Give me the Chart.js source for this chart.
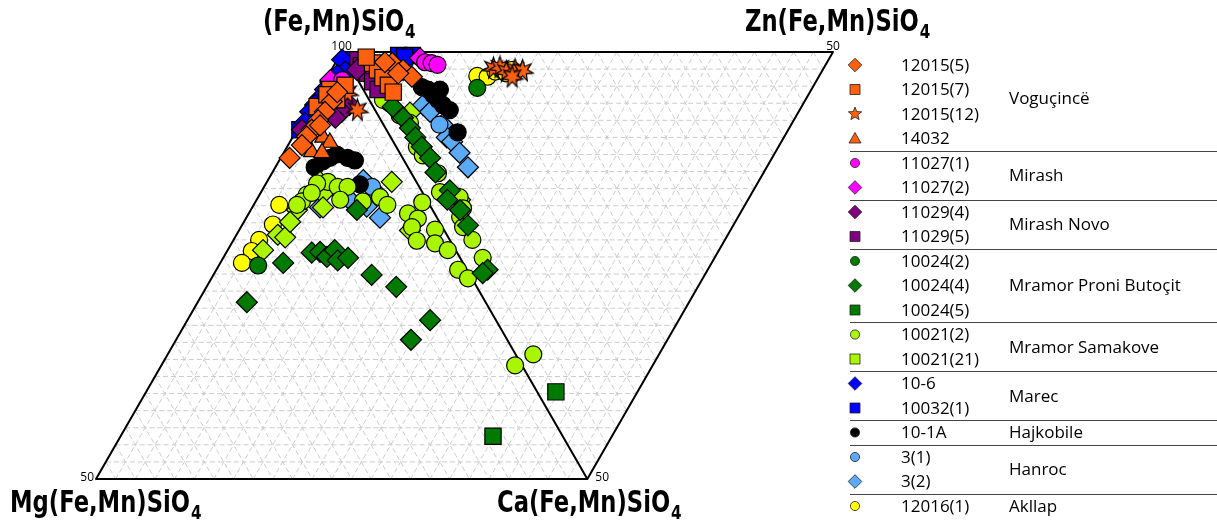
<!DOCTYPE html>
<html>
<head>
<meta charset="utf-8">
<script src="https://cdn.jsdelivr.net/npm/chart.js@4.4.1/dist/chart.umd.min.js"></script>
<style>
  html, body { margin: 0; padding: 0; background: #ffffff; overflow: hidden; }
  canvas { display: block; }
</style>
</head>
<body>
<canvas id="chart" width="1217" height="524"></canvas>
<script>
// Olivine compositions, mol %: [Mg(Fe,Mn)SiO4, Ca(Fe,Mn)SiO4, Zn(Fe,Mn)SiO4];
// the remainder is (Fe,Mn)SiO4. Left triangle: Fe-Mg-Ca, right triangle: Fe-Zn-Ca.
const s12015_5 = [[0,1.3,4.5],[0,2.1,5.2],[0,2.9,5.7],[0,2.5,4.5],[0,1.2,3.8],
  [3.9,1.9,0],[5.2,1.8,0],[6.4,1.6,0],[7.6,1.5,0],[8.5,1.4,0],[9.5,1.4,0],[11.5,0.9,0],[2.8,1.9,0],[6.5,2.1,0]];
const s12015_7 = [[0,1.3,2.5],[0,2.1,2.6],[0,3.0,2.7],[0,3.9,2.8],[0,4.7,2.9],[0,0.6,2.2],
  [3.4,1.0,0],[3.3,2.3,0],[5.7,0.7,0],[4.0,1.0,0],[1.6,2.3,0]];
const s12015_12 = [[0,1.9,14.5],[0,1.8,15.2],[0,2.3,15.6],[0,2.1,16.6],[0,2.2,17.3],[0,2.9,15.9],
  [1.8,3.0,0],[1.8,5.0,0]];
const s14032 = [[6.9,3.1,0],[6.5,4.1,0],[8.9,2.8,0],[7.9,3.9,0]];
const s11027_1 = [[0,1.2,7.9],[0,1.3,8.5],[0,1.5,9.0],[1.6,1.7,0]];
const s11027_2 = [[2.8,0.5,0],[0,0.7,7.6]];
const s11029_4 = [[2.3,3.9,0],[3.5,3.5,0],[8.6,0.5,0],[0,2.1,0.5],[4.5,3.2,0]];
const s11029_5 = [[0,0.9,1.2],[0,1.6,1.2],[0,2.5,1.4],[0,3.5,1.4],[0,4.4,1.5]];
const s10024_2 = [[0,4.2,11.7],[21.0,4.0,0]];
const s10024_4 = [[0,6.4,2.0],[0,7.7,2.4],[0,8.9,2.5],[0,10.0,2.5],[0,11.1,2.6],[0,12.4,2.8],
  [0,14.1,2.5],[0,16.2,2.9],[0,18.5,2.8],[0,17.3,2.1],[0,20.3,2.7],[0,25.5,2.1],[0,25.9,1.4],
  [7.7,10.8,0],[14.8,8.7,0],[13.9,9.5,0],[13.5,10.5,0],[12.3,10.9,0],[12.6,11.8,0],[11.4,12.7,0],
  [18.3,6.4,0],[10.0,16.1,0],[8.2,19.3,0],[24.3,5.0,0],[6.7,24.7,0],[9.8,23.9,0]];
const s10024_5 = [[0,39.8,1.9],[7.1,37.9,0]];
const s10021_2 = [[0,6.0,1.9],[0,7.4,2.2],[0,8.3,2.8],[0,5.6,1.4],[0,11.1,2.1],[0,12.1,2.2],
  [0,14.2,2.7],[0,16.5,2.0],[0,17.0,3.5],[0,18.3,3.2],[0,16.4,1.8],
  [2.7,16.2,0],[2.0,17.5,0],[0.6,17.0,0],[3.1,17.4,0],[3.4,18.7,0],[0.9,19.9,0],[1.7,20.7,0],[0.8,22.4,0],
  [0,19.3,2.4],[0,20.5,2.1],[0,22.0,2.3],[0,24.1,2.3],[0.9,24.6,0],[0.4,26.1,0],[0,35.4,1.8],[0.7,36.0,0],
  [9.0,6.2,0],[8.3,7.5,0],[7.3,8.5,0],[11.9,4.8,0],[12.8,4.7,0],[4.6,12.4,0],[4.3,13.6,0],[6.6,10.9,0],
  [10.2,5.2,0],[11.3,5.2,0],[13.5,4.4,0],[8.8,8.5,0]];
const s10021_21 = [[9.8,5.4,0],[10.2,6.4,0],[13.8,4.7,0],[11.0,7.2,0],[17.2,4.2,0],[16.6,5.1,0],
  [19.6,3.6,0],[2.5,12.7,0],[3.5,17.4,0],[0,17.3,3.4],[15.2,4.7,0],[0,7.1,3.4]];
const s10_6 = [[0.4,0.5,0],[0.8,1.5,0],[1.8,0.9,0],[2.9,0.6,0],[3.9,0.5,0],[4.9,0.5,0],[5.8,0.4,0],[6.7,0.3,0],[7.9,0.4,0]];
const s10032_1 = [[0,0.4,5.6],[0,0.4,7.0],[0,0.6,6.1],[0,0.9,0.4],[8.8,0.3,0]];
const s10_1A = [[0,4.1,6.1],[0,4.4,6.6],[0,5.0,6.8],[0,5.6,7.0],[0,6.2,7.2],[0,6.8,7.6],[0,9.4,7.1],[0,4.4,7.8],
  [9.5,4.0,0],[8.3,4.5,0],[7.4,5.0,0],[6.5,5.5,0],[5.6,6.8,0],[5.0,7.7,0],[5.9,9.6,0]];
const s3_1 = [[0,8.5,5.7],[4.8,11.0,0]];
const s3_2 = [[0,6.2,5.2],[0,7.0,5.5],[0,8.5,6.0],[0,10.0,5.7],[0,10.5,6.0],[0,11.8,6.1],[0,13.5,6.1],
  [7.9,9.2,0],[4.7,11.8,0],[5.8,13.6,0],[11.3,6.9,0],[6.5,11.6,0],[5.3,9.7,0],[8.5,7.7,0]];
const s12016_1 = [[0,2.8,12.4],[0,2.9,13.4],[0,2.3,14.5],[0,2.5,15.5],[0,2.1,16.3],
  [15.3,2.6,0],[17.1,3.1,0],[19.4,2.6,0],[20.8,2.5,0],[22.5,2.2,0]];

// Legend text and grouping by locality
const sampleLabels = ['12015(5)','12015(7)','12015(12)','14032','11027(1)','11027(2)','11029(4)','11029(5)',
  '10024(2)','10024(4)','10024(5)','10021(2)','10021(21)','10-6','10032(1)','10-1A','3(1)','3(2)','12016(1)'];
const groupNames = ['Voguçincë','Mirash','Mirash Novo','Mramor Proni Butoçit','Mramor Samakove','Marec','Hajkobile','Hanroc','Akllap'];
const groupSizes = [4, 2, 2, 3, 2, 2, 1, 2, 1];

// Axis / apex labels and tick values
const apexLabels = { top: '(Fe,Mn)SiO', right: 'Zn(Fe,Mn)SiO', left: 'Mg(Fe,Mn)SiO', bottom: 'Ca(Fe,Mn)SiO' };
const apexTick = 100, edgeTick = 50, gridStep = 2;

const ORANGE = '#ff6010', MAGENTA = '#ff00ff', PURPLE = '#800080', GREEN = '#007a00',
      LIME = '#aaf500', BLUE = '#0000ff', BLACK = '#000000', SKY = '#5aaaf5', YELLOW = '#ffff00';

function starCanvas(outer, inner, points, color, lw) {
  const size = Math.ceil(outer * 2 + lw * 2 + 2);
  const cv = document.createElement('canvas');
  cv.width = size; cv.height = size;
  const g = cv.getContext('2d');
  g.translate(size / 2, size / 2);
  g.beginPath();
  for (let i = 0; i < points * 2; i++) {
    const r = i % 2 === 0 ? outer : inner;
    const a = -Math.PI / 2 + i * Math.PI / points;
    if (i === 0) g.moveTo(r * Math.cos(a), r * Math.sin(a)); else g.lineTo(r * Math.cos(a), r * Math.sin(a));
  }
  g.closePath();
  g.fillStyle = color; g.fill();
  g.lineWidth = lw; g.strokeStyle = '#000'; g.lineJoin = 'miter'; g.stroke();
  return cv;
}
const plotStar = starCanvas(11, 5, 7, ORANGE, 1.2);

// Marker styles: plot style, size, and legend style
const series = [
  { data: s12015_5,  color: ORANGE,  style: 'rectRot',  r: 10.5, lg: 'diamond' },
  { data: s12015_7,  color: ORANGE,  style: 'rect',     r: 11.5, lg: 'square' },
  { data: s12015_12, color: ORANGE,  style: plotStar,   r: 11,   lg: 'star' },
  { data: s14032,    color: ORANGE,  style: 'triangle', r: 9.5,  lg: 'triangle' },
  { data: s11027_1,  color: MAGENTA, style: 'circle',   r: 8.5,  lg: 'circle' },
  { data: s11027_2,  color: MAGENTA, style: 'rectRot',  r: 10.5, lg: 'diamond' },
  { data: s11029_4,  color: PURPLE,  style: 'rectRot',  r: 10.5, lg: 'diamond' },
  { data: s11029_5,  color: PURPLE,  style: 'rect',     r: 11.5, lg: 'square' },
  { data: s10024_2,  color: GREEN,   style: 'circle',   r: 8.5,  lg: 'circle' },
  { data: s10024_4,  color: GREEN,   style: 'rectRot',  r: 10.5, lg: 'diamond' },
  { data: s10024_5,  color: GREEN,   style: 'rect',     r: 11.5, lg: 'square' },
  { data: s10021_2,  color: LIME,    style: 'circle',   r: 8.5,  lg: 'circle' },
  { data: s10021_21, color: LIME,    style: 'rectRot',  r: 10.5, lg: 'square' },
  { data: s10_6,     color: BLUE,    style: 'rectRot',  r: 10.5, lg: 'diamond' },
  { data: s10032_1,  color: BLUE,    style: 'rect',     r: 11.5, lg: 'square' },
  { data: s10_1A,    color: BLACK,   style: 'circle',   r: 8.5,  lg: 'circle' },
  { data: s3_1,      color: SKY,     style: 'circle',   r: 8.5,  lg: 'circle' },
  { data: s3_2,      color: SKY,     style: 'rectRot',  r: 10.5, lg: 'diamond' },
  { data: s12016_1,  color: YELLOW,  style: 'circle',   r: 8.5,  lg: 'circle' }
];

const S3 = Math.sqrt(3) / 2;
const SPAN = edgeTick;               // 100 -> 50 % (Fe,Mn)SiO4 along every edge
const H = S3 * SPAN;

// [Mg, Ca, Zn] -> cartesian position in the diamond (apex at 0,0)
function toXY(p) {
  const mg = p[0], ca = p[1], zn = p[2];
  return { x: (ca - mg) / 2 + zn, y: -S3 * (mg + ca) };
}

const datasets = series.map((s, i) => ({
  label: sampleLabels[i],
  data: s.data.map(toXY),
  pointStyle: s.style,
  pointRadius: s.r,
  pointHoverRadius: s.r,
  pointBackgroundColor: s.color,
  pointBorderColor: '#000000',
  pointBorderWidth: 1.2,
  backgroundColor: s.color,
  borderColor: '#000000',
  showLine: false,
  clip: false
}));

const FRAME = { left: 96, right: 1217 - 833, top: 52, bottom: 524 - 479 };

const diamondFrame = {
  id: 'diamondFrame',
  beforeDatasetsDraw(chart) {
    const ctx = chart.ctx, sx = chart.scales.x, sy = chart.scales.y;
    const P = (x, y) => [sx.getPixelForValue(x), sy.getPixelForValue(y)];
    const seg = (a, b) => { const p = P(a[0], a[1]), q = P(b[0], b[1]); ctx.moveTo(p[0], p[1]); ctx.lineTo(q[0], q[1]); };
    ctx.save();
    // dashed triangular grid
    ctx.beginPath();
    const n = SPAN / gridStep;
    for (let k = 1; k < n; k++) {
      const t = k * gridStep;
      seg([-t / 2, -S3 * t], [SPAN - t / 2, -S3 * t]);            // horizontal
      seg([t, 0], [t - SPAN / 2, -H]);                              // parallel to Fe-Mg edge
      seg([t, 0], [t + (SPAN - t) / 2, -S3 * (SPAN - t)]);          // parallel to Fe-Ca edge (upper)
      seg([-t / 2, -S3 * t], [SPAN / 2 - t, -H]);                   // parallel to Fe-Ca edge (lower)
    }
    ctx.strokeStyle = '#cccccc';
    ctx.lineWidth = 1;
    ctx.setLineDash([5, 3]);
    ctx.stroke();
    ctx.setLineDash([]);
    // outline and shared Fe-Ca edge
    ctx.beginPath();
    const A = [0, 0], Z = [SPAN, 0], C = [SPAN / 2, -H], M = [-SPAN / 2, -H];
    seg(A, Z); seg(Z, C); seg(C, M); seg(M, A); seg(A, C);
    ctx.strokeStyle = '#000000';
    ctx.lineWidth = 2;
    ctx.lineCap = 'round';
    ctx.stroke();
    ctx.restore();
  },
  afterDraw(chart) {
    const ctx = chart.ctx, sx = chart.scales.x, sy = chart.scales.y;
    ctx.save();
    // end-member labels with subscript 4, set in a condensed bold face
    const fam = '"DejaVu Sans Condensed", "Liberation Sans Narrow", "Open Sans", sans-serif';
    const big = 'bold 30px ' + fam, sub = 'bold 20px ' + fam;
    const squeeze = 0.84;
    const formula = (txt, x, y) => {
      ctx.save();
      ctx.translate(x, y);
      ctx.scale(squeeze, 1);
      ctx.font = big; ctx.textAlign = 'left'; ctx.textBaseline = 'alphabetic'; ctx.fillStyle = '#000';
      ctx.fillText(txt, 0, 0);
      const w = ctx.measureText(txt).width;
      ctx.font = sub; ctx.fillText('4', w + 1, 7);
      ctx.restore();
    };
    formula(apexLabels.top, 263, 31);
    formula(apexLabels.right, 745, 31);
    formula(apexLabels.left, 10, 512);
    formula(apexLabels.bottom, 497, 512);
    // corner values
    ctx.font = '12px "Open Sans", sans-serif';
    ctx.fillStyle = '#000';
    ctx.textBaseline = 'alphabetic';
    ctx.textAlign = 'center';
    ctx.fillText(String(apexTick), sx.getPixelForValue(0), 50);
    ctx.fillText(String(edgeTick), sx.getPixelForValue(SPAN), 50);
    ctx.textAlign = 'right';
    ctx.fillText(String(edgeTick), sx.getPixelForValue(-SPAN / 2) - 2, sy.getPixelForValue(-H) + 2);
    ctx.textAlign = 'left';
    ctx.fillText(String(edgeTick), sx.getPixelForValue(SPAN / 2) + 8, sy.getPixelForValue(-H) + 2);

    // legend
    const rowY = i => 65 + i * 24.5;
    const mx = 855, tx = 901, gx = 1009;
    ctx.font = '17px "Open Sans", sans-serif';
    ctx.textBaseline = 'middle';
    ctx.textAlign = 'left';
    series.forEach((s, i) => {
      drawLegendMarker(ctx, s.lg, mx, rowY(i), s.color);
      ctx.fillStyle = '#000';
      ctx.fillText(sampleLabels[i], tx, rowY(i) + 1);
    });
    let start = 0;
    groupNames.forEach((g, gi) => {
      const n = groupSizes[gi];
      let cy = (rowY(start) + rowY(start + n - 1)) / 2;
      if (gi === 0) cy = rowY(1.35);
      ctx.fillStyle = '#000';
      ctx.fillText(g, gx, cy + 1);
      start += n;
      if (gi < groupNames.length - 1) {
        const ly = Math.round((rowY(start - 1) + rowY(start)) / 2) + 0.5;
        ctx.beginPath(); ctx.moveTo(850, ly); ctx.lineTo(1217, ly);
        ctx.strokeStyle = '#444'; ctx.lineWidth = 1.2; ctx.stroke();
      }
    });
    ctx.restore();
  }
};

function drawLegendMarker(ctx, kind, x, y, color) {
  ctx.save();
  ctx.translate(x, y);
  ctx.beginPath();
  if (kind === 'circle') ctx.arc(0, 0, 4.6, 0, Math.PI * 2);
  else if (kind === 'square') ctx.rect(-5, -5, 10, 10);
  else if (kind === 'diamond') { ctx.moveTo(0, -6.8); ctx.lineTo(6.8, 0); ctx.lineTo(0, 6.8); ctx.lineTo(-6.8, 0); ctx.closePath(); }
  else if (kind === 'triangle') { ctx.moveTo(0, -6); ctx.lineTo(6, 4.5); ctx.lineTo(-6, 4.5); ctx.closePath(); }
  else if (kind === 'star') {
    for (let i = 0; i < 10; i++) {
      const r = i % 2 === 0 ? 7 : 3;
      const a = -Math.PI / 2 + i * Math.PI / 5;
      if (i === 0) ctx.moveTo(r * Math.cos(a), r * Math.sin(a)); else ctx.lineTo(r * Math.cos(a), r * Math.sin(a));
    }
    ctx.closePath();
  }
  ctx.fillStyle = color; ctx.fill();
  ctx.lineWidth = 0.8; ctx.strokeStyle = '#222'; ctx.stroke();
  ctx.restore();
}

new Chart(document.getElementById('chart'), {
  type: 'scatter',
  data: { datasets },
  options: {
    responsive: false,
    devicePixelRatio: 1,
    animation: false,
    events: [],
    layout: { padding: FRAME },
    scales: {
      x: { type: 'linear', min: -SPAN / 2, max: SPAN, display: false },
      y: { type: 'linear', min: -H, max: 0, display: false }
    },
    plugins: { legend: { display: false }, tooltip: { enabled: false } }
  },
  plugins: [diamondFrame]
});
</script>
</body>
</html>
